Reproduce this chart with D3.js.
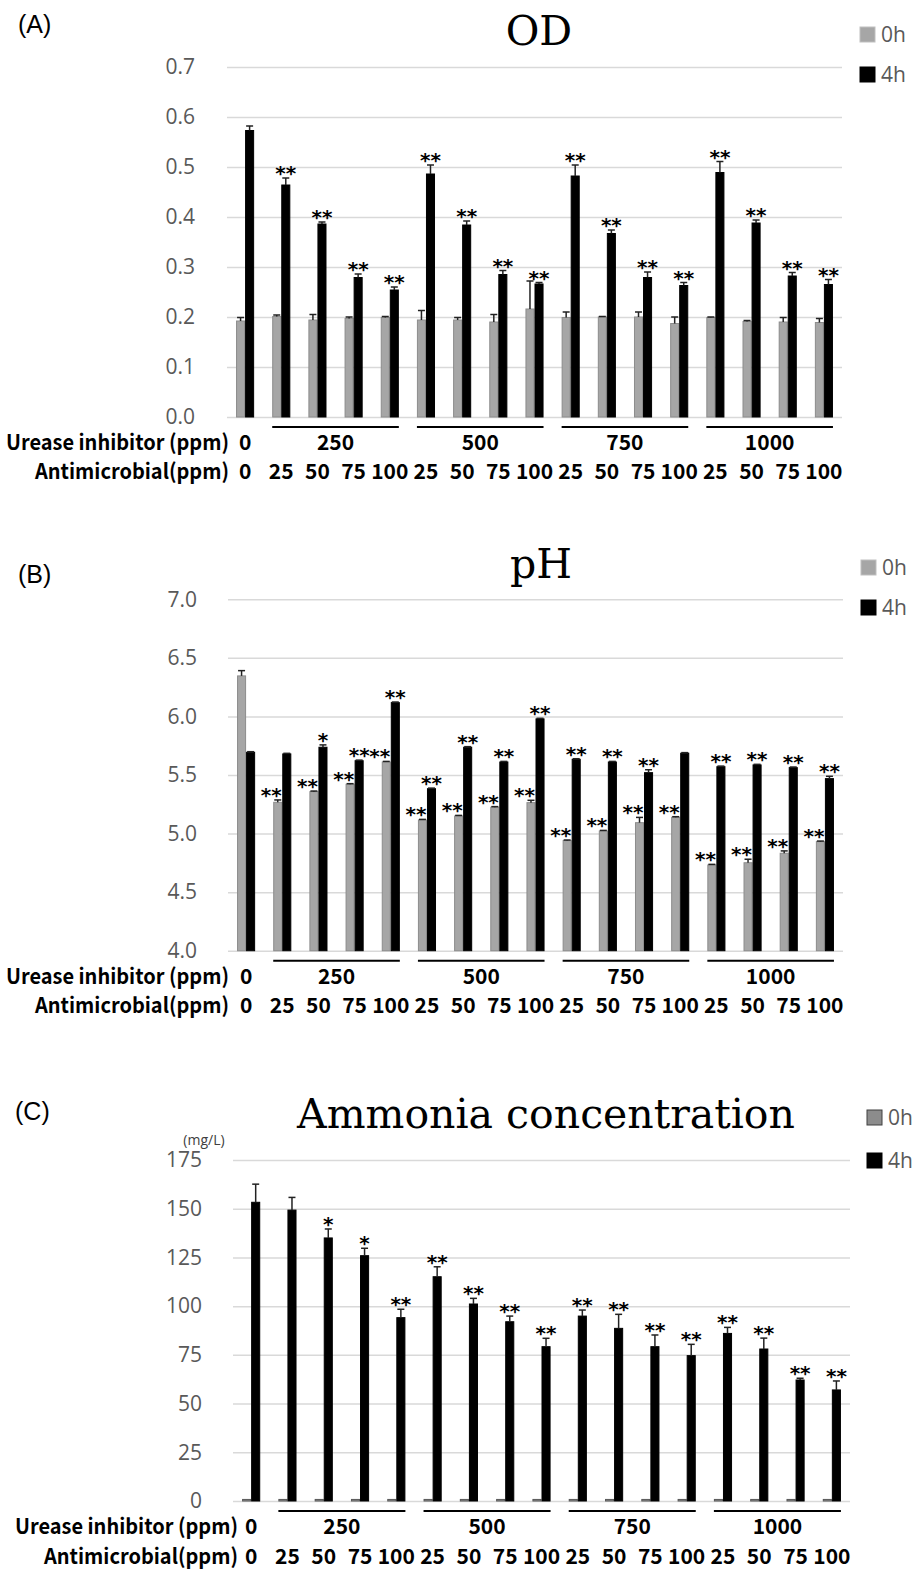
<!DOCTYPE html>
<html>
<head>
<meta charset="utf-8">
<script src="https://cdn.jsdelivr.net/npm/d3@7"></script>
<style>
  body { margin: 0; background: #fff; }
  svg { display: block; }
</style>
</head>
<body>
<div id="chart"></div>
<script>
// groups: urease inhibitor dose + antimicrobial dose
var ureaseDose = [0, 250, 250, 250, 250, 500, 500, 500, 500, 750, 750, 750, 750, 1000, 1000, 1000, 1000];
var antimicrobialDose = [0, 25, 50, 75, 100, 25, 50, 75, 100, 25, 50, 75, 100, 25, 50, 75, 100];
var seriesNames = ["0h", "4h"];

// (A) OD
var od0h   = [0.192, 0.201, 0.194, 0.197, 0.199, 0.194, 0.194, 0.190, 0.216, 0.199, 0.200, 0.200, 0.187, 0.199, 0.191, 0.190, 0.189];
var od0hSd = [0.007, 0.003, 0.011, 0.003, 0.002, 0.019, 0.005, 0.015, 0.056, 0.011, 0.001, 0.010, 0.013, 0.001, 0.002, 0.009, 0.008];
var od4h   = [0.573, 0.464, 0.386, 0.279, 0.254, 0.486, 0.384, 0.285, 0.266, 0.482, 0.367, 0.279, 0.263, 0.489, 0.388, 0.282, 0.265];
var od4hSd = [0.009, 0.014, 0.004, 0.007, 0.006, 0.018, 0.008, 0.008, 0.003, 0.022, 0.007, 0.011, 0.006, 0.022, 0.006, 0.007, 0.010];
var od0hSig = ["", "", "", "", "", "", "", "", "", "", "", "", "", "", "", "", ""];
var od4hSig = ["", "**", "**", "**", "**", "**", "**", "**", "**", "**", "**", "**", "**", "**", "**", "**", "**"];

// (B) pH
var ph0h   = [6.346, 5.267, 5.358, 5.421, 5.611, 5.116, 5.150, 5.225, 5.264, 4.940, 5.022, 5.093, 5.139, 4.732, 4.751, 4.832, 4.931];
var ph0hSd = [0.045, 0.020, 0.005, 0.005, 0.005, 0.005, 0.005, 0.005, 0.020, 0.005, 0.005, 0.045, 0.005, 0.005, 0.030, 0.020, 0.005];
var ph4h   = [5.694, 5.680, 5.737, 5.622, 6.118, 5.383, 5.737, 5.611, 5.979, 5.634, 5.611, 5.520, 5.686, 5.571, 5.586, 5.563, 5.469];
var ph4hSd = [0.005, 0.005, 0.020, 0.005, 0.005, 0.005, 0.005, 0.005, 0.005, 0.005, 0.005, 0.025, 0.005, 0.005, 0.005, 0.005, 0.020];
var ph0hSig = ["", "**", "**", "**", "**", "**", "**", "**", "**", "**", "**", "**", "**", "**", "**", "**", "**"];
var ph4hSig = ["", "", "*", "**", "**", "**", "**", "**", "**", "**", "**", "**", "", "**", "**", "**", "**"];

// (C) Ammonia (mg/L)
var nh0h   = [0.8, 0.8, 0.8, 0.8, 0.8, 0.8, 0.8, 0.8, 0.8, 0.8, 0.8, 0.8, 0.8, 0.8, 0.8, 0.8, 0.8];
var nh0hSd = [0, 0, 0, 0, 0, 0, 0, 0, 0, 0, 0, 0, 0, 0, 0, 0, 0];
var nh4h   = [153.3, 149.3, 135.0, 125.9, 94.1, 115.1, 101.1, 92.0, 79.2, 94.9, 88.6, 79.2, 74.6, 86.0, 78.0, 62.1, 57.0];
var nh4hSd = [9.3, 6.5, 4.6, 3.8, 4.3, 5.1, 2.9, 2.9, 4.3, 3.1, 7.2, 6.0, 5.8, 3.1, 5.6, 0.9, 4.6];
var nh0hSig = ["", "", "", "", "", "", "", "", "", "", "", "", "", "", "", "", ""];
var nh4hSig = ["", "", "*", "*", "**", "**", "**", "**", "**", "**", "**", "**", "**", "**", "**", "**", "**"];

var W = 915, H = 1570;
var svg = d3.select("#chart").append("svg").attr("width", W).attr("height", H);
svg.append("rect").attr("width", W).attr("height", H).attr("fill", "#fff");

var tickFont = "'Open Sans', 'DejaVu Sans', sans-serif";
var rowFont = "'Noto Sans CJK JP', 'Noto Sans', sans-serif";
var titleFont = "'DejaVu Serif', serif";

function drawPanel(p) {
  var g = svg.append("g");
  var n = ureaseDose.length;

  var x = d3.scaleBand().domain(d3.range(n)).range([p.x0, p.x1]).paddingInner(0.5).paddingOuter(0.25);
  var xs = d3.scaleBand().domain(seriesNames).range([0, x.bandwidth()]);
  var y = d3.scaleLinear().domain(p.domain).range([p.yBottom, p.yTop]);

  // gridlines + tick labels
  var ax = g.append("g").attr("transform", "translate(" + p.x0 + ",0)")
    .call(d3.axisLeft(y).tickValues(p.ticks).tickSize(-(p.x1 - p.x0)).tickPadding(p.tickPad).tickFormat(d3.format(p.fmt)));
  ax.select(".domain").remove();
  ax.selectAll(".tick line").attr("stroke", "#d9d9d9").attr("stroke-width", 1.5);
  ax.selectAll(".tick text").attr("fill", "#595959").style("font-family", tickFont).style("font-size", "21px");

  var rows = [];
  for (var i = 0; i < n; i++) {
    rows.push({ i: i, s: "0h", v: p.v0[i], sd: p.sd0[i], sig: p.sig0[i] });
    rows.push({ i: i, s: "4h", v: p.v4[i], sd: p.sd4[i], sig: p.sig4[i] });
  }
  function cx(d) { return x(d.i) + xs(d.s) + xs.bandwidth() / 2; }

  // bars
  g.selectAll("rect.bar").data(rows).join("rect")
    .attr("class", "bar")
    .attr("x", function(d) { return x(d.i) + xs(d.s) + 0.5; })
    .attr("width", xs.bandwidth() - 1)
    .attr("y", function(d) { return y(d.v); })
    .attr("height", function(d) { return y(p.domain[0]) - y(d.v); })
    .attr("fill", function(d) { return d.s == "0h" ? p.grayFill : "#000"; })
    .attr("stroke", function(d) { return d.s == "0h" ? p.grayStroke : "#000"; })
    .attr("stroke-width", 1);

  // error bars (upper only)
  var eb = g.selectAll("g.err").data(rows.filter(function(d) { return d.sd > 0; })).join("g").attr("class", "err")
    .attr("stroke", "#222").attr("stroke-width", 1.5);
  eb.append("line")
    .attr("x1", cx).attr("x2", cx)
    .attr("y1", function(d) { return y(d.v); })
    .attr("y2", function(d) { return y(d.v + d.sd); });
  eb.append("line")
    .attr("x1", function(d) { return cx(d) - 3.5; })
    .attr("x2", function(d) { return cx(d) + 3.5; })
    .attr("y1", function(d) { return y(d.v + d.sd); })
    .attr("y2", function(d) { return y(d.v + d.sd); });

  // significance marks (0h marks sit to the left so the 4h bar does not hide them)
  g.selectAll("text.sig").data(rows.filter(function(d) { return d.sig; })).join("text")
    .attr("class", "sig")
    .attr("x", function(d) { return d.s == "0h" ? cx(d) + 4 : cx(d); })
    .attr("y", function(d) { return y(d.v + d.sd) + 2; })
    .attr("text-anchor", function(d) { return d.s == "0h" ? "end" : "middle"; })
    .style("font-family", "'DejaVu Sans', sans-serif")
    .style("font-weight", "bold")
    .style("font-size", "20px")
    .text(function(d) { return d.sig; });

  // category rows under the axis
  var base = y(p.domain[0]);
  var runs = [];
  ureaseDose.forEach(function(u, i) {
    if (runs.length && runs[runs.length - 1].u === u) runs[runs.length - 1].to = i;
    else runs.push({ u: u, from: i, to: i });
  });
  g.selectAll("line.run").data(runs.filter(function(r) { return r.to > r.from; })).join("line")
    .attr("x1", function(r) { return x(r.from); })
    .attr("x2", function(r) { return x(r.to) + x.bandwidth(); })
    .attr("y1", base + 10).attr("y2", base + 10)
    .attr("stroke", "#000").attr("stroke-width", 2);
  g.selectAll("text.run").data(runs).join("text")
    .attr("x", function(r) { return (x(r.from) + x(r.to) + x.bandwidth()) / 2; })
    .attr("y", base + 33)
    .attr("text-anchor", "middle")
    .style("font-family", rowFont).style("font-weight", "bold").style("font-size", "21px")
    .text(function(r) { return r.u; });
  g.selectAll("text.am").data(antimicrobialDose).join("text")
    .attr("x", function(d, i) { return x(i) + x.bandwidth() / 2; })
    .attr("y", base + p.row2)
    .attr("text-anchor", "middle")
    .style("font-family", rowFont).style("font-weight", "bold").style("font-size", "21px")
    .text(function(d) { return d; });
  g.append("text").attr("x", p.rowEnd - 223).attr("y", base + 33)
    .attr("textLength", 223).attr("lengthAdjust", "spacingAndGlyphs")
    .style("font-family", rowFont).style("font-weight", "bold").style("font-size", "21px")
    .text("Urease inhibitor (ppm)");
  g.append("text").attr("x", p.rowEnd - 194).attr("y", base + p.row2)
    .attr("textLength", 194).attr("lengthAdjust", "spacingAndGlyphs")
    .style("font-family", rowFont).style("font-weight", "bold").style("font-size", "21px")
    .text("Antimicrobial(ppm)");

  // panel letter, title
  g.append("text").attr("x", p.letterX).attr("y", p.letterY)
    .style("font-family", "'Liberation Sans', Arial, sans-serif").style("font-size", "25px")
    .text(p.letter);
  g.append("text").attr("x", p.titleX).attr("y", p.titleY).attr("text-anchor", "middle")
    .style("font-family", titleFont).style("font-size", "41px")
    .text(p.title);
  if (p.unit) {
    g.append("text").attr("x", p.unitX).attr("y", p.unitY).attr("text-anchor", "middle")
      .attr("fill", "#404040")
      .style("font-family", tickFont).style("font-size", "14px")
      .text(p.unit);
  }

  // legend
  var lg = g.selectAll("g.lg").data(seriesNames).join("g")
    .attr("transform", function(d, k) { return "translate(" + p.legX + "," + (p.legY + k * p.legGap) + ")"; });
  lg.append("rect").attr("width", 15).attr("height", 15)
    .attr("fill", function(d) { return d == "0h" ? p.grayFill : "#000"; })
    .attr("stroke", function(d) { return d == "0h" ? p.legStroke : "#000"; });
  lg.append("text").attr("x", 21).attr("y", 15)
    .attr("fill", "#595959")
    .style("font-family", tickFont).style("font-size", "21px")
    .text(function(d) { return d; });
}

drawPanel({
  letter: "(A)", letterX: 18, letterY: 33,
  title: "OD", titleX: 539, titleY: 45,
  x0: 227, x1: 842, yTop: 67, yBottom: 417,
  domain: [0, 0.7], ticks: d3.range(0, 0.71, 0.1), fmt: ".1f", tickPad: 32,
  v0: od0h, sd0: od0hSd, sig0: od0hSig, v4: od4h, sd4: od4hSd, sig4: od4hSig,
  grayFill: "#a6a6a6", grayStroke: "#8c8c8c", legStroke: "#bfbfbf",
  legX: 860, legY: 27, legGap: 40, rowEnd: 229, row2: 62
});

drawPanel({
  letter: "(B)", letterX: 18, letterY: 583,
  title: "pH", titleX: 541, titleY: 578,
  x0: 228, x1: 843, yTop: 599.3, yBottom: 950.7,
  domain: [4, 7], ticks: d3.range(4, 7.01, 0.5), fmt: ".1f", tickPad: 31,
  v0: ph0h, sd0: ph0hSd, sig0: ph0hSig, v4: ph4h, sd4: ph4hSd, sig4: ph4hSig,
  grayFill: "#a6a6a6", grayStroke: "#8c8c8c", legStroke: "#bfbfbf",
  legX: 861, legY: 560, legGap: 40, rowEnd: 229, row2: 62
});

drawPanel({
  letter: "(C)", letterX: 15, letterY: 1120,
  title: "Ammonia concentration", titleX: 546, titleY: 1128,
  unit: "(mg/L)", unitX: 204, unitY: 1145,
  x0: 233, x1: 850, yTop: 1160, yBottom: 1501,
  domain: [0, 175], ticks: d3.range(0, 176, 25), fmt: "d", tickPad: 31,
  v0: nh0h, sd0: nh0hSd, sig0: nh0hSig, v4: nh4h, sd4: nh4hSd, sig4: nh4hSig,
  grayFill: "#8c8c8c", grayStroke: "#595959", legStroke: "#404040",
  legX: 867, legY: 1110, legGap: 43, rowEnd: 238, row2: 63
});
</script>
</body>
</html>
